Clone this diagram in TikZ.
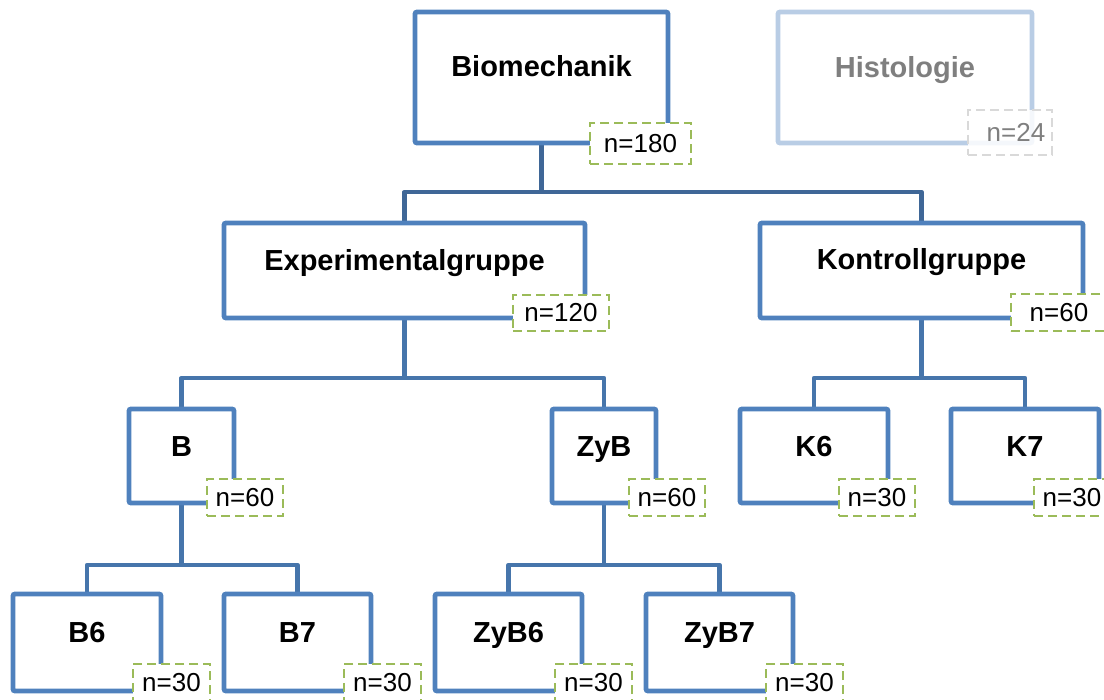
\documentclass[tikz,border=0pt]{standalone}
\usepackage{fontspec}
\setmainfont{Liberation Sans}
\usetikzlibrary{calc,backgrounds}
\definecolor{boxblue}{HTML}{4F81BD}
\definecolor{conntop}{HTML}{3F6797}
\definecolor{connlow}{HTML}{4675AB}
\definecolor{lightblue}{HTML}{B9CDE5}
\definecolor{ngreen}{HTML}{9BBB59}
\definecolor{ngray}{HTML}{D9D9D9}
\definecolor{tgray}{HTML}{7F7F7F}
\begin{document}
\begin{tikzpicture}[x=1pt,y=-1pt,
  box/.style 2 args={draw=boxblue,line width=4.8pt,rounded corners=2pt,
    minimum width=#1pt,minimum height=#2pt,inner sep=0pt,outer sep=0pt},
  nbox/.style 2 args={draw=ngreen,fill=white,line width=2.8pt,dash pattern=on 9pt off 5pt,
    minimum width=#1pt,minimum height=#2pt,inner sep=0pt,outer sep=0pt,
    font=\fontsize{26}{26}\selectfont},
  title/.style={anchor=base,inner sep=0pt,font=\fontsize{29}{29}\selectfont\bfseries},
  conn/.style={draw=connlow,line width=4.8pt,line join=round},
  conntopst/.style={draw=conntop,line width=4.8pt,line join=round}]
\useasboundingbox (0,0) rectangle (1104,700);
\clip (0,0) rectangle (1104,700);
% boxes
\node[box={253}{131}] (bio) at (541.5,77.5) {};
\node[box={254}{131},draw=lightblue] (his) at (905,77.5) {};
\node[box={361}{95}] (exp) at (404.5,270.5) {};
\node[box={323}{95}] (kon) at (921.5,270.5) {};
\node[box={105}{94}] (b) at (181.5,456) {};
\node[box={104}{94}] (zyb) at (604,456) {};
\node[box={148}{94}] (k6) at (814,456) {};
\node[box={148}{94}] (k7) at (1025,456) {};
\node[box={148}{97}] (b6) at (87,642.5) {};
\node[box={147}{97}] (b7) at (297.5,642.5) {};
\node[box={147}{97}] (zyb6) at (508.5,642.5) {};
\node[box={147}{97}] (zyb7) at (719.5,642.5) {};
% connectors
\coordinate (j0) at ($(bio.south)+(0,49)$);
\coordinate (j1) at ($(exp.south)+(0,60)$);
\coordinate (j2) at ($(kon.south)+(0,60)$);
\coordinate (j3) at ($(b.south)+(0,62)$);
\coordinate (j4) at ($(zyb.south)+(0,62)$);
\begin{pgfonlayer}{background}
\draw[conntopst] (bio.south) -- (j0) -| (exp.north);
\draw[conntopst] (j0) -| (kon.north);
\draw[conn] (exp.south) -- (j1) -| (b.north);
\draw[conn] (j1) -| (zyb.north);
\draw[conn] (kon.south) -- (j2) -| (k6.north);
\draw[conn] (j2) -| (k7.north);
\draw[conn] (b.south) -- (j3) -| (b6.north);
\draw[conn] (j3) -| (b7.north);
\draw[conn] (zyb.south) -- (j4) -| (zyb6.north);
\draw[conn] (j4) -| (zyb7.north);
\end{pgfonlayer}
% n boxes
\node[nbox={101}{41}] (nbio) at (640.5,143.5) {n=180};
\node[nbox={84}{45},draw=ngray,fill opacity=0.85,text opacity=1,text=tgray] (nhis) at (1010,132.5) {\hspace*{12pt}n=24};
\node[nbox={96}{36}] (nexp) at (561,313) {n=120};
\node[nbox={96}{37}] (nkon) at (1059,312.5) {n=60};
\node[nbox={76}{37}] (nb) at (245,497.5) {n=60};
\node[nbox={76}{37}] (nzyb) at (667,497.5) {n=60};
\node[nbox={76}{37}] (nk6) at (877,497.5) {n=30};
\node[nbox={76}{37}] (nk7) at (1072,497.5) {n=30};
\node[nbox={77}{37}] (nb6) at (171.5,682.5) {n=30};
\node[nbox={77}{37}] (nb7) at (382.5,682.5) {n=30};
\node[nbox={77}{37}] (nzyb6) at (593.5,682.5) {n=30};
\node[nbox={77}{37}] (nzyb7) at (804.5,682.5) {n=30};
% titles
\node[title] (tbio) at ($(bio.north)+(0,65)$) {Biomechanik};
\node[title,text=tgray] (this) at ($(his.north)+(0,66)$) {Histologie};
\node[title] (texp) at ($(exp.north)+(0,48)$) {Experimentalgruppe};
\node[title] (tkon) at ($(kon.north)+(0,47)$) {Kontrollgruppe};
\node[title] (tb) at ($(b.north)+(0,48)$) {B};
\node[title] (tzyb) at ($(zyb.north)+(0,48)$) {ZyB};
\node[title] (tk6) at ($(k6.north)+(0,48)$) {K6};
\node[title] (tk7) at ($(k7.north)+(0,48)$) {K7};
\node[title] (tb6) at ($(b6.north)+(0,48)$) {B6};
\node[title] (tb7) at ($(b7.north)+(0,48)$) {B7};
\node[title] (tzyb6) at ($(zyb6.north)+(0,48)$) {ZyB6};
\node[title] (tzyb7) at ($(zyb7.north)+(0,48)$) {ZyB7};
\end{tikzpicture}
\end{document}
